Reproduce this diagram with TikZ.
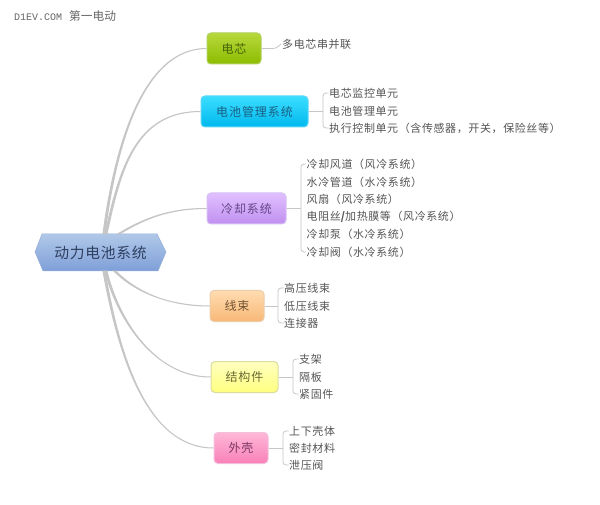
\documentclass[tikz,border=0pt]{standalone}
\usepackage{fontspec}
\setmainfont{Noto Sans CJK SC}
\newfontfamily\latinmono{Liberation Mono}
\newfontfamily\leaffont[LetterSpace=5.5]{Noto Sans CJK SC}
\newfontfamily\topicfont[LetterSpace=8]{Noto Sans CJK SC}
\newfontfamily\corefont[LetterSpace=5]{Noto Sans CJK SC}
\usetikzlibrary{calc}
\definecolor{linkc}{HTML}{C6C6C6}
\definecolor{leaftext}{HTML}{555555}
\definecolor{coreT}{HTML}{B0C8E8}\definecolor{coreB}{HTML}{7F9FD8}\definecolor{coreD}{HTML}{96AFDC}\definecolor{coreX}{HTML}{2F4060}
\definecolor{cellT}{HTML}{B8D83C}\definecolor{cellB}{HTML}{8CBC00}\definecolor{cellD}{HTML}{B0D05A}\definecolor{cellX}{HTML}{46640A}
\definecolor{bmsT}{HTML}{3CDEFF}\definecolor{bmsB}{HTML}{00B8EE}\definecolor{bmsD}{HTML}{5AD7F5}\definecolor{bmsX}{HTML}{195F82}
\definecolor{coolT}{HTML}{E0C0FF}\definecolor{coolB}{HTML}{C090F0}\definecolor{coolD}{HTML}{D7BEF5}\definecolor{coolX}{HTML}{644687}
\definecolor{harnT}{HTML}{FFDCB0}\definecolor{harnB}{HTML}{F8B878}\definecolor{harnD}{HTML}{EBCDAA}\definecolor{harnX}{HTML}{735532}
\definecolor{framT}{HTML}{FFFFC0}\definecolor{framB}{HTML}{FFFF80}\definecolor{framD}{HTML}{DCDCA0}\definecolor{framX}{HTML}{696932}
\definecolor{shelT}{HTML}{FFB8D8}\definecolor{shelB}{HTML}{F880B8}\definecolor{shelD}{HTML}{F5BEDC}\definecolor{shelX}{HTML}{7D3764}
\newcommand{\branch}[4]{\filldraw[linkc,line width=1pt] ($(#1)+(-1,0)$) .. controls ($(#3)+(-.7,0)$) and ($(#4)+(0,-.2)$) .. (#2) .. controls ($(#4)+(0,.2)$) and ($(#3)+(.7,0)$) .. ($(#1)+(1,0)$) -- cycle;}
\newcommand{\bracket}[4]{%
  \coordinate (bx) at (#4,0);
  \draw[stalk,rounded corners=3pt] ($(#2.west)+(-.5,0)$) -- (#2.west -| bx) -- (#3.west -| bx) -- ($(#3.west)+(-.5,0)$);
  \draw[stalk] (#1.east) -- (#1.east -| bx);}
\tikzset{
  stalk/.style={draw=linkc,line width=.8pt},
  topic/.style={rounded corners=4pt,line width=1pt,font=\topicfont\fontsize{12}{15}\selectfont,inner sep=0pt,minimum height=31pt},
  leaf/.style={anchor=west,inner sep=0pt,text=leaftext,font=\leaffont\fontsize{11}{13}\selectfont},
}
\begin{document}
\begin{tikzpicture}[x=1pt,y=-1pt]
\useasboundingbox (0,0) rectangle (600,505);
\fill[white] (0,0) rectangle (600,505);
% title
\node[anchor=west,inner sep=0pt,text=black!60] (title) at (14,16) {{\latinmono\fontsize{10}{12}\selectfont D1EV.COM}\hspace{7pt}{\fontsize{11.7}{13}\selectfont 第一电动}};
% centre
\shade[top color=coreT,bottom color=coreB,draw=coreD,line width=.5pt]
  (42,234) -- (157,234) -- (166,252) -- (158,271) -- (43,271) -- (35,252) -- cycle;
\node[inner sep=0pt,minimum width=131pt,minimum height=37pt,text=coreX,font=\corefont\fontsize{14.8}{18}\selectfont] (core) at (100.5,252.5) {动力电池系统};
% topics
\node[topic,shade,top color=cellT,bottom color=cellB,draw=cellD,text=cellX,minimum width=54pt] (cell) at (234,48.5) {电芯};
\node[topic,shade,top color=bmsT,bottom color=bmsB,draw=bmsD,text=bmsX,minimum width=107pt] (bms) at (254.5,111.5) {电池管理系统};
\node[topic,shade,top color=coolT,bottom color=coolB,draw=coolD,text=coolX,minimum width=79pt] (cool) at (246.5,208.5) {冷却系统};
\node[topic,shade,top color=harnT,bottom color=harnB,draw=harnD,text=harnX,minimum width=54pt] (harness) at (237,306) {线束};
\node[topic,shade,top color=framT,bottom color=framB,draw=framD,text=framX,minimum width=67pt] (frame) at (244.5,377) {结构件};
\node[topic,shade,top color=shelT,bottom color=shelB,draw=shelD,text=shelX,minimum width=54pt] (shell) at (241,448) {外壳};
% leaves
\node[leaf] (l1) at (282,44) {多电芯串并联};
\node[leaf] (b1) at (329,93) {电芯监控单元};
\node[leaf] (b2) at (329,111) {电池管理单元};
\node[leaf] (b3) at (329,128) {执行控制单元（含传感器，开关，保险丝等）};
\node[leaf] (c1) at (306.5,164) {冷却风道（风冷系统）};
\node[leaf] (c2) at (306.5,182) {水冷管道（水冷系统）};
\node[leaf] (c3) at (306.5,199.5) {风扇（风冷系统）};
\node[leaf] (c4) at (306.5,217) {电阻丝{\bfseries /}加热膜等（风冷系统）};
\node[leaf] (c5) at (306.5,234.5) {冷却泵（水冷系统）};
\node[leaf] (c6) at (306.5,252) {冷却阀（水冷系统）};
\node[leaf] (h1) at (284,288) {高压线束};
\node[leaf] (h2) at (284,306) {低压线束};
\node[leaf] (h3) at (284,323) {连接器};
\node[leaf] (f1) at (299,359) {支架};
\node[leaf] (f2) at (299,377) {隔板};
\node[leaf] (f3) at (299,394) {紧固件};
\node[leaf] (s1) at (289,431) {上下壳体};
\node[leaf] (s2) at (289,448) {密封材料};
\node[leaf] (s3) at (289,465) {泄压阀};
% branches
\coordinate (ra) at ($(core.north)+(3.5,0)$);
\coordinate (rb) at ($(core.north)+(5.5,0)$);
\coordinate (rc) at ($(core.north)+(18.5,0)$);
\coordinate (rd) at ($(core.south)+(14.5,0)$);
\coordinate (re) at ($(core.south)+(5.5,0)$);
\coordinate (rf) at ($(core.south)+(3.5,0)$);
\coordinate (ca) at (116,140); \coordinate (cb) at (145,48.5);
\coordinate (cc) at (120,170); \coordinate (cd) at (135,111.5);
\coordinate (ce) at (145,218); \coordinate (cf) at (170,208.5);
\coordinate (cg) at (140,296); \coordinate (ch) at (175,306);
\coordinate (ci) at (118,320); \coordinate (cj) at (155,377);
\coordinate (ck) at (118,350); \coordinate (cl) at (145,448);
\branch{ra}{cell.west}{ca}{cb}
\branch{rb}{bms.west}{cc}{cd}
\branch{rc}{cool.west}{ce}{cf}
\branch{rd}{harness.west}{cg}{ch}
\branch{re}{frame.west}{ci}{cj}
\branch{rf}{shell.west}{ck}{cl}
% brackets
\coordinate (lx) at (276,0);
\draw[stalk,rounded corners=3pt] (cell.east) -- (cell.east -| lx) -- ($(l1.west)+(-1,0)$);
\bracket{bms}{b1}{b3}{323}
\bracket{cool}{c1}{c6}{301}
\bracket{harness}{h1}{h3}{278}
\bracket{frame}{f1}{f3}{293}
\bracket{shell}{s1}{s3}{283}
\end{tikzpicture}
\end{document}
